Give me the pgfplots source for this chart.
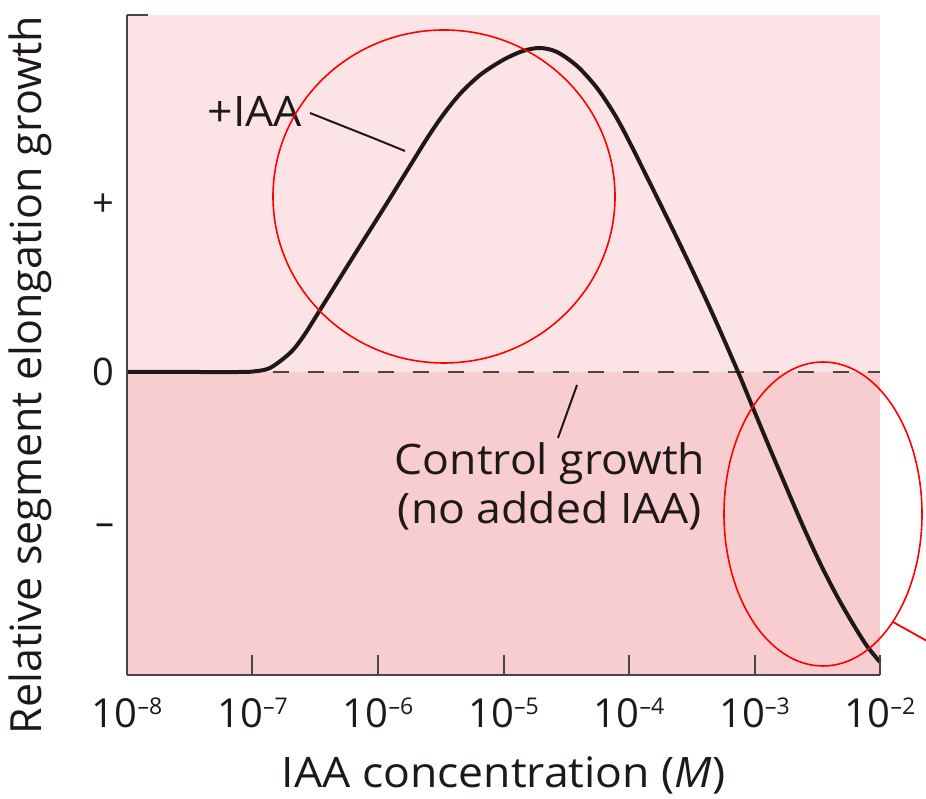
\documentclass[border=0pt]{standalone}
\usepackage{pgfplots}
\pgfplotsset{compat=1.18}
\usepackage{fontspec}
\setmainfont{Open Sans}
\newfontfamily\widefont{Open Sans}[FakeStretch=1.06]
\definecolor{upperpink}{HTML}{FCE4E6}
\definecolor{lowerpink}{HTML}{F8CDD0}
\definecolor{axisgray}{HTML}{4A4444}
\definecolor{inkblack}{HTML}{1E1818}
\newcommand{\tl}[1]{10\raisebox{13pt}{\fontsize{23}{23}\selectfont –#1}}
\newcommand{\bigf}{\widefont\fontsize{42}{50}\selectfont}
\newcommand{\tickf}{\fontsize{40}{46}\selectfont}
\begin{document}
\begin{tikzpicture}
\useasboundingbox (-127pt,-124pt) rectangle (799pt,675pt);
\begin{axis}[
  at={(0pt,0pt)}, anchor=south west,
  scale only axis, width=753pt, height=660pt,
  xmin=-8, xmax=-2, ymin=-3.03, ymax=3.57,
  enlargelimits=false, clip=false, axis on top,
  axis x line*=bottom, axis y line*=left,
  axis line style={axisgray, line width=2.5pt},
  xtick={-8,-7,-6,-5,-4,-3,-2},
  xticklabels={\tl{8},\tl{7},\tl{6},\tl{5},\tl{4},\tl{3},\tl{2}},
  ytick={-1.58,0,1.67}, yticklabels={–,0,+},
  tick align=inside,
  x tick style={axisgray, line width=2pt}, major tick length=20pt,
  y tick style={draw=none},
  tick label style={font=\tickf, text=inkblack},
  xticklabel style={anchor=base, yshift=-53pt},
  yticklabel style={xshift=-9pt, font=\fontsize{38}{44}\selectfont},
]
\fill[upperpink] (axis cs:-8,0) rectangle (axis cs:-2,3.57);
\fill[lowerpink] (axis cs:-8,-3.03) rectangle (axis cs:-2,0);

% control growth (no added IAA)
\addplot[axisgray, line width=2.3pt, dash pattern=on 16pt off 19pt] coordinates {(-6.84,0) (-2,0)};

% +IAA response curve
\addplot[inkblack, line width=4pt, smooth, tension=0.5] coordinates {
(-8.000,0) (-7.500,0) (-7.100,0) (-6.996,0.005) (-6.861,0.04) (-6.701,0.19)
(-6.598,0.35) (-6.462,0.62) (-6.199,1.15) (-5.928,1.69) (-5.721,2.11)
(-5.602,2.35) (-5.482,2.57) (-5.347,2.78) (-5.187,2.97) (-5.004,3.12)
(-4.845,3.21) (-4.709,3.24) (-4.574,3.20) (-4.414,3.06) (-4.255,2.84)
(-4.112,2.57) (-3.976,2.25) (-3.618,1.34) (-3.355,0.64) (-3.131,0.0)
(-3.012,-0.36) (-2.876,-0.77) (-2.741,-1.17) (-2.614,-1.54) (-2.478,-1.91)
(-2.343,-2.24) (-2.215,-2.52) (-2.104,-2.74) (-2.000,-2.90)
};

% top cap of y axis
\draw[axisgray, line width=2.5pt] (axis cs:-8,3.57) -- ([xshift=21pt]axis cs:-8,3.57);

% annotations
\node[font=\bigf, text=inkblack, anchor=base] at (axis cs:-6.98,2.45) {+IAA};
\draw[inkblack, line width=2pt] (axis cs:-6.542,2.59) -- (axis cs:-6.04,2.34) -- (axis cs:-5.785,2.21);
\node[font=\bigf, text=inkblack, anchor=base] at (axis cs:-4.63,-1.03) {Control growth};
\node[font=\bigf, text=inkblack, anchor=base] at (axis cs:-4.63,-1.52) {(no added IAA)};
\draw[inkblack, line width=2pt] (axis cs:-4.414,-0.13) -- (axis cs:-4.566,-0.66);

% axis titles
\node[font=\bigf, text=inkblack, anchor=base] at (axis cs:-5,-4.16) {IAA concentration (\textit{M})};
\node[font=\fontsize{43}{50}\selectfont, text=inkblack, rotate=90, anchor=center] at (axis cs:-8.773,-0.03) {Relative segment elongation growth};
\end{axis}
% red highlight ellipses
\draw[red, line width=1.6pt] (317pt,478.5pt) ellipse [x radius=171pt, y radius=166.5pt];
\draw[red, line width=1.6pt] (696pt,161pt) ellipse [x radius=99pt, y radius=152pt];
\draw[red, line width=1.8pt] (766pt,53pt) -- (800pt,34pt);
\end{tikzpicture}
\end{document}
